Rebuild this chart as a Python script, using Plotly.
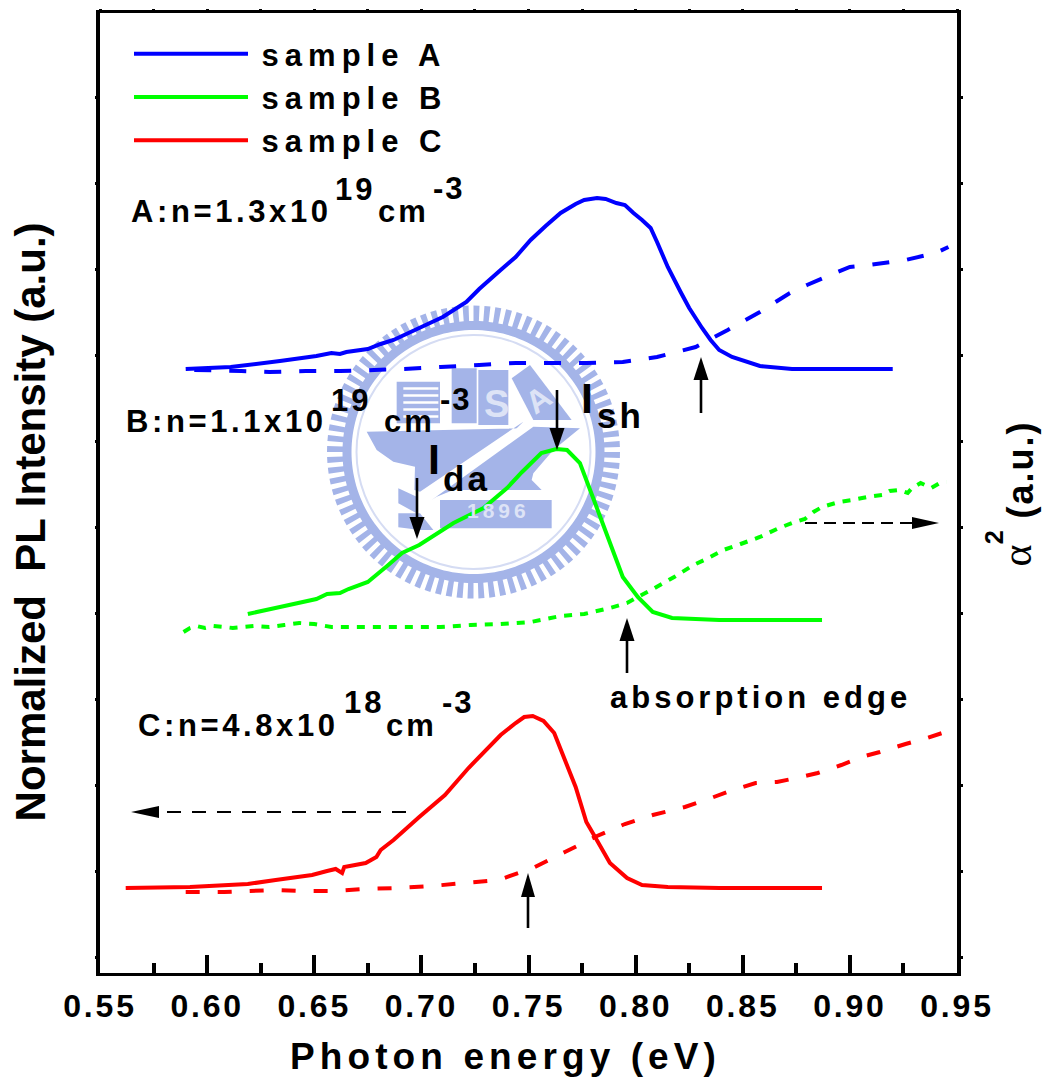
import math
import plotly.graph_objects as go

# ---------- data (x: eV, y: a.u.) ----------
a_pl_x = [.590,.611,.634,.651,.658,.662,.665,.675,.681,.687,.699,.710,.721,.727,.737,.744,.751,.758,.765,.772,.776,.779,.782,.786,.791,.795,.799,.803,.807,.810,.815,.821,.825,.831,.835,.839,.845,.858,.873,.900,.920]
a_pl_y = [604,606,612,617,620,619,621,624,629,633,645,656,671,684,703,716,733,747,760,769,773,774,775,774,770,768,760,753,745,731,706,681,665,645,633,623,616,607,604,604,604]
a_abs_x = [.594,.616,.629,.646,.662,.678,.692,.709,.727,.744,.760,.777,.794,.810,.828,.843,.858,.872,.880,.893,.900,.909,.926,.940,.946]
a_abs_y = [603,602,601,602,602,603,604,606,608,610,610,610,611,616,626,643,661,680,688,700,706,708,713,720,726]

b_pl_x = [.619,.634,.651,.656,.662,.666,.675,.684,.691,.699,.715,.729,.740,.747,.756,.763,.768,.774,.780,.787,.794,.801,.808,.817,.839,.887]
b_pl_y = [359,366,374,379,380,384,391,407,420,428,450,465,485,501,520,524,523,510,476,436,396,376,361,355,353,353]
b_abs_x = [.589,.592,.595,.599,.603,.608,.612,.617,.622,.629,.636,.643,.650,.658,.670,.685,.696,.709,.723,.737,.751,.765,.776,.788,.796,.801,.808,.818,.827,.834,.841,.849,.858,.867,.873,.879,.883,.887,.895,.901,.908,.915,.9185,.923,.927,.929,.933,.938,.942,.945]
b_abs_y = [341,345,347,345,347,346,345,346,347,346,348,350,349,346,346,346,346,346,348,349,351,357,359,365,370,376,384,396,408,415,423,429,436,445,450,454,461,466,471,473,476,478,482,483,480,485,490,485,490,491]

c_pl_x = [.562,.592,.619,.632,.649,.656,.660,.663,.664,.674,.679,.681,.687,.699,.711,.722,.737,.744,.748,.752,.757,.762,.767,.772,.777,.780,.788,.796,.803,.815,.839,.887]
c_pl_y = [85,86,89,93,98,102,104,100,106,110,116,123,133,156,178,205,238,250,256,257,252,240,213,186,151,140,110,95,88,86,85,85]
c_abs_x = [.590,.608,.620,.631,.644,.659,.673,.689,.705,.720,.736,.752,.767,.782,.795,.808,.823,.834,.844,.856,.866,.875,.885,.896,.907,.914,.926,.936,.946]
c_abs_y = [81,81,82,83,82,82,84,85,87,90,93,105,121,137,149,158,166,174,182,190,191,195,200,208,217,221,229,235,242]

x_ticks = [0.55,0.60,0.65,0.70,0.75,0.80,0.85,0.90,0.95]
x_labels = ["0.55","0.60","0.65","0.70","0.75","0.80","0.85","0.90","0.95"]
samples = ["sample A","sample B","sample C"]
BLUE, GREEN, RED = "#0000ff", "#00ff00", "#ff0000"
FONT = "Liberation Sans"
WM = "#a4b4e8"

# ---------- page geometry ----------
W, H = 1046, 1083
L, R, T, B = 100, 957, 13, 973

def P(px, py):
    return (px - L) / (R - L), (B - py) / (B - T)

def sp(s, n):
    return f'<span style="letter-spacing:{n}px">{s}</span>' if n else s

fig = go.Figure()

def curve(x, y, color, dash=None, name=None):
    fig.add_trace(go.Scatter(
        x=x, y=y, mode="lines", name=sp("\u200a" + name, 6) if name else "", showlegend=bool(name),
        legendgroup=name, hoverinfo="skip",
        line=dict(color=color, width=4, dash=dash or "solid", simplify=False)))

curve(a_abs_x, a_abs_y, BLUE, "17px,18px")
curve(b_abs_x, b_abs_y, GREEN, "8px,8px")
curve(c_abs_x, c_abs_y, RED, "14px,18px")
curve(a_pl_x, a_pl_y, BLUE, name=samples[0])
curve(b_pl_x, b_pl_y, GREEN, name=samples[1])
curve(c_pl_x, c_pl_y, RED, name=samples[2])
# carries the tick marks of the top and right frame edges
fig.add_trace(go.Scatter(x=[None], y=[None], xaxis="x2", yaxis="y2", showlegend=False, hoverinfo="skip"))

shapes, annos = [], []

# ---------- arrows ----------
def arrow(x0, y0, x1, y1, blen, hw, dash="solid", lw=2.6):
    dx, dy = x1 - x0, y1 - y0
    d = math.hypot(dx, dy)
    ux, uy = dx / d, dy / d
    bx, by = x1 - ux * blen, y1 - uy * blen
    a, b = P(x0, y0), P(bx, by)
    shapes.append(dict(type="line", xref="paper", yref="paper", x0=a[0], y0=a[1], x1=b[0], y1=b[1],
                       line=dict(color="black", width=lw, dash=dash)))
    pts = [(x1, y1), (bx - uy * hw, by + ux * hw), (bx + uy * hw, by - ux * hw)]
    path = "M" + " L".join("%.5f,%.5f" % P(*p) for p in pts) + " Z"
    shapes.append(dict(type="path", xref="paper", yref="paper", path=path,
                       fillcolor="black", line=dict(color="black", width=0)))

arrow(701, 413, 701, 357, 23, 7.5)
arrow(627, 673, 627, 618, 23, 7.5)
arrow(528, 928, 528, 873, 24, 7)
arrow(557, 390, 557, 450, 22, 7.5)
arrow(417, 478, 417, 539, 22, 7.5)
arrow(805, 523, 939, 523, 27, 6, "12px,7px", 2.2)
arrow(406, 812, 131, 812, 28, 6, "14px,11px", 2.2)

# ---------- text ----------
def text(px, base, s, size, n=0, color="black", weight=700, family=FONT):
    x, y = P(px, base + 0.212 * size)
    annos.append(dict(xref="paper", yref="paper", x=x, y=y, xanchor="left", yanchor="bottom",
                      text=sp(s, n), showarrow=False, borderpad=0, borderwidth=0,
                      font=dict(family=family, size=size, color=color, weight=weight)))

def vtext(base_x, cy, s, size, n=0, weight=700, family=FONT):
    x, y = P(base_x - 0.3465 * size, cy)
    annos.append(dict(xref="paper", yref="paper", x=x, y=y, xanchor="center", yanchor="middle",
                      textangle=-90, text=sp(s, n), showarrow=False, borderpad=0, borderwidth=0,
                      font=dict(family=family, size=size, color="black", weight=weight)))

S0 = 31
text(131, 222, "A:n=1.3x10", S0, 3.6); text(335, 200, "19", S0, 3); text(378, 222, "cm", S0, 3); text(433, 199, "-3", S0, 2)
text(126, 432, "B:n=1.1x10", S0, 3.6); text(331, 411, "19", S0, 3); text(384, 432, "cm", S0, 3); text(440, 410, "-3", S0, 2)
text(138, 736, "C:n=4.8x10", S0, 3.6); text(344, 713, "18", S0, 3); text(386, 736, "cm", S0, 3); text(442, 713, "-3", S0, 2)
text(581, 413, "I", 43); text(597, 428, "sh", 35, 3)
text(428, 474, "I", 43); text(443, 491, "da", 35, 3)
text(610, 708, "absorption edge", 31, 4)
vtext(45, 522, "Normalized  PL Intensity (a.u.)", 42, 0)
text(290, 1069, "Photon energy (eV)", 37, 5.1)
vtext(1032, 470, "(a.u.)", 36, 2)
vtext(1032, 555, "α", 42, 0, 400, "Liberation Serif")
vtext(1003, 537, "2", 25, 0)

# ---------- seal in the background (drawn below the curves) ----------
CX, CY = 473.5, 452

def poly(pts):
    return "M" + " L".join("%.5f,%.5f" % P(*p) for p in pts) + " Z "

def fill(path, color=WM):
    shapes.append(dict(type="path", xref="paper", yref="paper", path=path, layer="below",
                       fillcolor=color, line=dict(width=0)))

def z(pts):
    return [(320 + a / 3, 300 + b / 3) for a, b in pts]

N_TEETH = 84
outer = []
for i in range(N_TEETH):
    for f, r in ((0.0, 146.5), (0.55, 146.5), (0.55, 131), (1.0, 131)):
        t = 2 * math.pi * (i + f) / N_TEETH
        outer.append((CX + r * math.cos(t), CY + r * math.sin(t)))
inner = [(CX + 122 * math.cos(-2 * math.pi * i / 180), CY + 122 * math.sin(-2 * math.pi * i / 180)) for i in range(180)]
fill(poly(outer) + poly(inner))
x0, y0 = P(CX - 117, CY - 117); x1, y1 = P(CX + 117, CY + 117)
shapes.append(dict(type="circle", xref="paper", yref="paper", x0=x0, y0=y0, x1=x1, y1=y1, layer="below",
                   line=dict(color="#d5dcf3", width=2)))

fill(poly(z([(230,245),(360,245),(360,370),(230,370)])))
for yy in (262, 283, 304, 325, 346):
    fill(poly(z([(250,yy),(355,yy),(355,yy+7),(250,yy+7)])), "#ffffff")
fill(poly(z([(395,205),(470,205),(470,370),(395,370)])))
fill(poly(z([(475,210),(565,210),(565,375),(475,375)])))
fill(poly(z([(575,235),(630,195),(755,360),(640,360)])))
fill(poly(z([(140,395),(590,385),(610,365),(300,575),(283,570),(285,500),(220,485),(170,450)])))
fill(poly(z([(640,380),(780,385),(700,450),(640,520),(635,540),(665,570),(400,570),(350,590),(335,600)])))
fill(poly(z([(360,600),(695,600),(695,685),(360,685)])))
fill(poly(z([(235,565),(290,590),(290,640),(235,610)])))
fill(poly(z([(235,640),(300,640),(340,690),(300,690),(235,682)])))

text(467, 518, "1896", 21, 4, "#dde3f6")
text(484, 417, "S", 38, 0, "#dde3f6")
annos.append(dict(xref="paper", yref="paper", x=P(538, 400)[0], y=P(538, 400)[1], text="A", showarrow=False,
                  textangle=-35, font=dict(family=FONT, size=32, color="#dde3f6", weight=700)))

# ---------- layout ----------
fig.update_layout(
    width=W, height=H, autosize=False,
    margin=dict(l=L, r=W - R, t=T, b=H - B, pad=0),
    paper_bgcolor="white", plot_bgcolor="rgba(0,0,0,0)",
    shapes=shapes, annotations=annos,
    font=dict(family=FONT, color="black"),
    legend=dict(x=P(129, 0)[0], y=P(0, 27)[1], xanchor="left", yanchor="top",
                bgcolor="rgba(0,0,0,0)", borderwidth=0, itemwidth=114, tracegroupgap=0,
                traceorder="grouped", font=dict(family=FONT, size=31, color="black", weight=700)),
    xaxis=dict(range=[0.55, 0.95], tickmode="array", tickvals=x_ticks, ticktext=[sp(t, 2.8) for t in x_labels],
               ticks="inside", ticklen=18, tickwidth=3.5, tickcolor="black",
               minor=dict(ticks="inside", ticklen=10, tickwidth=3.5, tickcolor="black", tick0=0.55, dtick=0.025, showgrid=False),
               showline=True, linecolor="black", linewidth=3, showgrid=False, zeroline=False,
               ticklabelstandoff=3, tickangle=0,
               tickfont=dict(family=FONT, size=32, color="black", weight=700)),
    yaxis=dict(range=[0, 960], tick0=16, dtick=86, ticks="outside", ticklen=1.5, tickwidth=3, tickcolor="black",
               showticklabels=False, showline=True, linecolor="black", linewidth=4, showgrid=False, zeroline=False),
    xaxis2=dict(range=[0.55, 0.95], overlaying="x", side="top", anchor="y2", tick0=0.55, dtick=0.025,
                ticks="outside", ticklen=1.5, tickwidth=3, tickcolor="black", showticklabels=False,
                showline=True, linecolor="black", linewidth=3, showgrid=False, zeroline=False),
    yaxis2=dict(range=[0, 960], overlaying="y", side="right", anchor="x2", tick0=16, dtick=86,
                ticks="outside", ticklen=1.5, tickwidth=3, tickcolor="black", showticklabels=False,
                showline=True, linecolor="black", linewidth=4, showgrid=False, zeroline=False),
)

fig.write_html("out.html", config={"displayModeBar": False}, post_script="document.body.style.margin='0';")
